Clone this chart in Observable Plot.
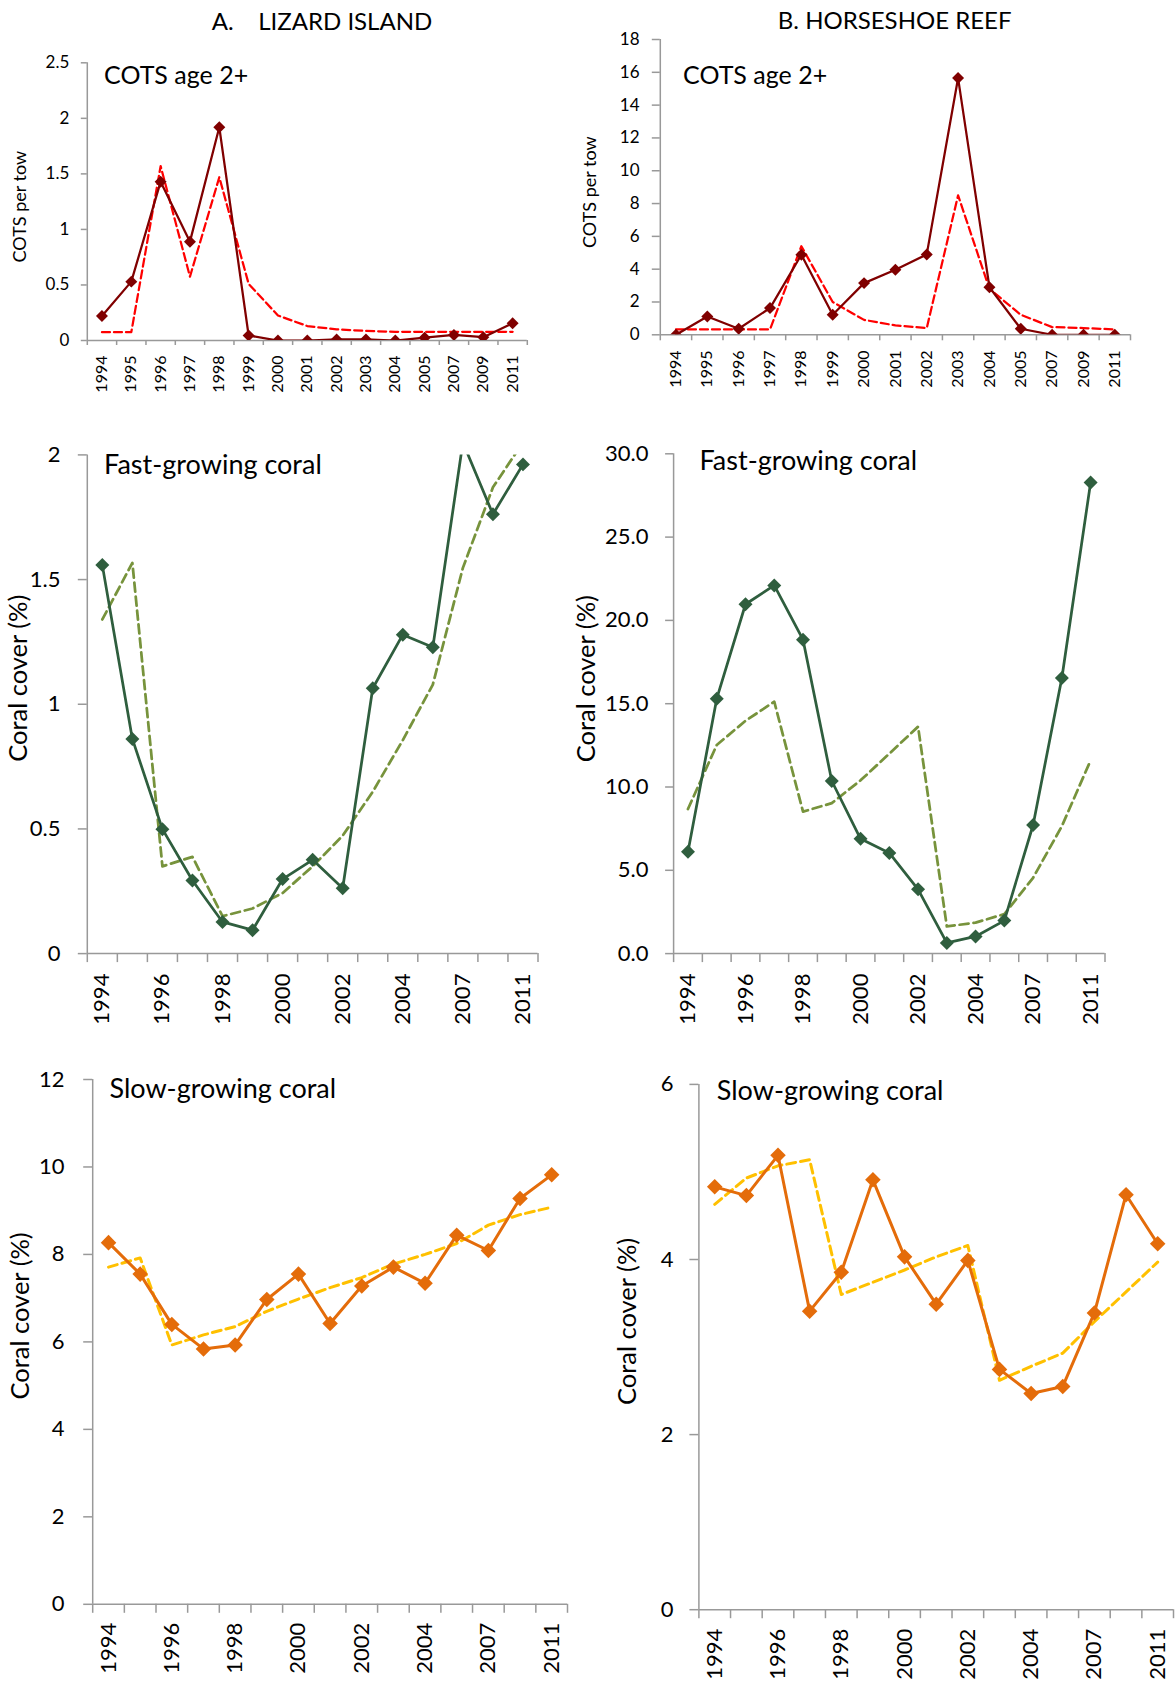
<!DOCTYPE html>
<html><head><meta charset="utf-8">
<script src="https://cdn.jsdelivr.net/npm/d3@7"></script>
<script src="https://cdn.jsdelivr.net/npm/@observablehq/plot@0.6"></script>
<style>
body{margin:0;background:#fff;}
#wrap{position:relative;width:1176px;height:1683px;overflow:hidden;background:#fff;font-family:Lato,sans-serif;}
.panel{position:absolute;}
.title{position:absolute;font-size:24px;line-height:24px;white-space:pre;color:#000;text-align:center;width:400px;font-family:Lato,sans-serif;}
</style></head><body><div id="wrap"></div>
<script>
// Categories (survey years)
const years = ["1994","1995","1996","1997","1998","1999","2000","2001","2002","2003","2004","2005","2007","2009","2011"];
const allLabels = years;
const alternateLabels = ["1994","1996","1998","2000","2002","2004","2007","2011"];

// A. Lizard Island
const lizCotsObs   = [0.22, 0.53, 1.43, 0.89, 1.92, 0.045, 0, 0, 0.01, 0.01, 0, 0.025, 0.05, 0.03, 0.155];
const lizCotsModel = [0.075, 0.075, 1.57, 0.575, 1.47, 0.51, 0.225, 0.13, 0.10, 0.087, 0.078, 0.078, 0.078, 0.078, 0.078];
const lizFastObs   = [1.558, 0.861, 0.499, 0.293, 0.127, 0.094, 0.299, 0.376, 0.262, 1.064, 1.279, 1.229, 2.05, 1.762, 1.962];
const lizFastModel = [1.34, 1.567, 0.35, 0.388, 0.15, 0.181, 0.243, 0.35, 0.473, 0.649, 0.856, 1.079, 1.547, 1.87, 2.05];
const lizSlowObs   = [8.27, 7.55, 6.40, 5.84, 5.93, 6.97, 7.55, 6.42, 7.28, 7.71, 7.34, 8.44, 8.09, 9.28, 9.82];
const lizSlowModel = [7.71, 7.92, 5.93, 6.16, 6.35, 6.70, 6.98, 7.24, 7.47, 7.78, 8.0, 8.25, 8.67, 8.91, 9.08];

// B. Horseshoe Reef
const horCotsObs   = [0, 1.12, 0.37, 1.63, 4.88, 1.22, 3.15, 3.96, 4.9, 15.65, 2.9, 0.37, 0, 0, 0];
const horCotsModel = [0.33, 0.33, 0.33, 0.33, 5.4, 2.0, 0.91, 0.57, 0.41, 8.5, 2.8, 1.22, 0.47, 0.41, 0.33];
const horFastObs   = [6.11, 15.3, 20.97, 22.1, 18.84, 10.36, 6.89, 6.04, 3.86, 0.64, 1.03, 1.98, 7.72, 16.54, 28.28];
const horFastModel = [8.68, 12.52, 13.97, 15.12, 8.52, 9.03, 10.4, 12.0, 13.62, 1.63, 1.86, 2.37, 4.55, 7.65, 11.6];
const horSlowObs   = [4.83, 4.73, 5.19, 3.41, 3.855, 4.91, 4.03, 3.49, 3.99, 2.745, 2.47, 2.55, 3.39, 4.74, 4.18];
const horSlowModel = [4.63, 4.93, 5.07, 5.14, 3.60, 3.74, 3.88, 4.03, 4.16, 2.62, 2.78, 2.93, 3.29, 3.63, 3.97];

// Axis ticks
const ticksLizCots = [0, 0.5, 1, 1.5, 2, 2.5];
const ticksHorCots = [0, 2, 4, 6, 8, 10, 12, 14, 16, 18];
const ticksLizFast = [0, 0.5, 1, 1.5, 2];
const ticksHorFast = [0, 5, 10, 15, 20, 25, 30];
const ticksLizSlow = [0, 2, 4, 6, 8, 10, 12];
const ticksHorSlow = [0, 2, 4, 6];

const GRAY = "#999999";
const wrap = document.getElementById("wrap");

function panel(o) {
  const rows = years.map((yr, i) => ({pos: i + 0.5, yr, obs: o.obs[i], model: o.model[i]}));
  const labelPos = o.xLabels.map(l => years.indexOf(l) + 0.5);
  const chart = Plot.plot({
    width: o.width, height: o.height,
    marginLeft: o.mL, marginRight: o.mR, marginTop: o.mT, marginBottom: o.mB,
    style: {fontFamily: "Lato, sans-serif", background: "transparent", overflow: "visible", color: "black"},
    x: {type: "linear", domain: [0, years.length], label: null},
    y: {domain: [o.yTicks[0], o.yTicks[o.yTicks.length - 1]], label: null},
    marks: [
      Plot.ruleY([o.yTicks[0]], {stroke: GRAY, strokeWidth: 1.5}),
      Plot.ruleX([0], {stroke: GRAY, strokeWidth: 1.5}),
      Plot.axisY({ticks: o.yTicks, tickSize: o.yTickSize, tickPadding: o.yPad, tickFormat: o.yFmt,
        fontSize: o.tickFont, stroke: GRAY, strokeWidth: 1.5, fill: "black", label: null}),
      Plot.axisX(d3.range(years.length + 1), {tickSize: o.xTickSize, stroke: GRAY, strokeWidth: 1.5, fill: "none", label: null}),
      Plot.axisX(labelPos, {tickSize: 0, tickPadding: o.xTickSize + o.xPad, tickRotate: -90,
        tickFormat: v => years[Math.round(v - 0.5)], fontSize: o.xFont, fill: "black", label: null}),
      Plot.line(rows, {x: "pos", y: "model", stroke: o.dashColor, strokeWidth: o.sw, strokeDasharray: o.dash, clip: true}),
      Plot.line(rows, {x: "pos", y: "obs", stroke: o.solidColor, strokeWidth: o.sw, strokeLinejoin: "round", clip: true}),
      Plot.dot(rows, {x: "pos", y: "obs", symbol: "diamond2", r: o.r, fill: o.solidColor, stroke: "none", clip: true}),
      Plot.text([o.inTitle], {frameAnchor: "top-left", dx: o.inDx, dy: o.inDy, textAnchor: "start", lineAnchor: "bottom",
        fontSize: o.inSize, fill: "black", text: d => d}),
      Plot.text([o.yLabel], {frameAnchor: "left", rotate: -90, textAnchor: "middle", lineAnchor: "middle",
        dx: o.yLabDx, dy: o.yLabDy, fontSize: o.yLabSize, fill: "black", text: d => d})
    ]
  });
  const div = document.createElement("div");
  div.className = "panel";
  div.style.left = o.left + "px";
  div.style.top = o.top + "px";
  div.appendChild(chart);
  wrap.appendChild(div);
}

const cots = {solidColor: "#800000", dashColor: "#ff0000", sw: 2.25, dash: "8,4", r: 5.4,
  tickFont: 17, xFont: 16, inSize: 25, yLabSize: 18, xLabels: allLabels};
const fast = {solidColor: "#2f5e3e", dashColor: "#77933c", sw: 2.75, dash: "9,5", r: 6.3,
  tickFont: 22, xFont: 22, inSize: 27, yLabSize: 25.5, xLabels: alternateLabels};
const slow = {solidColor: "#e46c0a", dashColor: "#ffc000", sw: 3, dash: "9,5", r: 7,
  tickFont: 22, xFont: 22, inSize: 27, yLabSize: 25.5, xLabels: alternateLabels};

panel({...cots, left: 0, top: 0, width: 580, height: 420, mL: 86.8, mR: 53.2, mT: 62.3, mB: 80,
  yTicks: ticksLizCots, yFmt: d3.format("~g"), yTickSize: 6, yPad: 12, xTickSize: 5, xPad: 10,
  obs: lizCotsObs, model: lizCotsModel, inTitle: "COTS age 2+", inDx: 16.8, inDy: 21,
  yLabel: "COTS per tow", yLabDx: -67, yLabDy: 5});
panel({...cots, left: 580, top: 0, width: 596, height: 420, mL: 79.8, mR: 46, mT: 39, mB: 85.7,
  yTicks: ticksHorCots, yFmt: d3.format("d"), yTickSize: 8, yPad: 12.8, xTickSize: 6, xPad: 9.7,
  obs: horCotsObs, model: horCotsModel, inTitle: "COTS age 2+", inDx: 22.8, inDy: 44.3,
  yLabel: "COTS per tow", yLabDx: -70.3, yLabDy: 5});
panel({...fast, left: 0, top: 420, width: 580, height: 620, mL: 86.8, mR: 42.5, mT: 34.4, mB: 86.9,
  yTicks: ticksLizFast, yFmt: d3.format("~g"), yTickSize: 9, yPad: 17.8, xTickSize: 9, xPad: 11,
  obs: lizFastObs, model: lizFastModel, inTitle: "Fast-growing coral", inDx: 16.8, inDy: 19.2,
  yLabel: "Coral cover (%)", yLabDx: -68.2, yLabDy: -26});
panel({...fast, left: 580, top: 420, width: 596, height: 620, mL: 93.1, mR: 71.5, mT: 33.3, mB: 86.9,
  yTicks: ticksHorFast, yFmt: d3.format(".1f"), yTickSize: 8, yPad: 17.1, xTickSize: 9, xPad: 11,
  obs: horFastObs, model: horFastModel, inTitle: "Fast-growing coral", inDx: 25.9, inDy: 16.5,
  yLabel: "Coral cover (%)", yLabDx: -86.6, yLabDy: -25});
panel({...slow, left: 0, top: 1040, width: 590, height: 643, mL: 92.2, mR: 23, mT: 39, mB: 79.2,
  yTicks: ticksLizSlow, yFmt: d3.format("d"), yTickSize: 9, yPad: 19.2, xTickSize: 9, xPad: 9.5,
  obs: lizSlowObs, model: lizSlowModel, inTitle: "Slow-growing coral", inDx: 16.8, inDy: 18.4,
  yLabel: "Coral cover (%)", yLabDx: -71.5, yLabDy: -26});
panel({...slow, left: 580, top: 1040, width: 596, height: 643, mL: 118.4, mR: 3, mT: 43.9, mB: 73.8,
  yTicks: ticksHorSlow, yFmt: d3.format("d"), yTickSize: 9, yPad: 16.4, xTickSize: 9, xPad: 10,
  obs: horSlowObs, model: horSlowModel, inTitle: "Slow-growing coral", inDx: 17.9, inDy: 15.6,
  yLabel: "Coral cover (%)", yLabDx: -71, yLabDy: -25.6});

function title(text, cx, top) {
  const d = document.createElement("div");
  d.className = "title";
  d.textContent = text;
  d.style.left = (cx - 200) + "px";
  d.style.top = top + "px";
  wrap.appendChild(d);
}
title("A.    LIZARD ISLAND", 322, 8.7);
title("B. HORSESHOE REEF", 894.7, 8);
</script></body></html>
